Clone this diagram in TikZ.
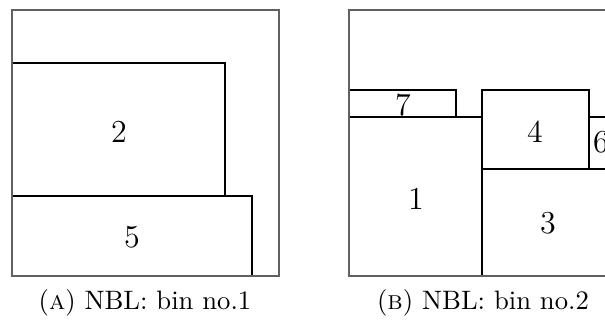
\documentclass[tikz,border=0pt]{standalone}
\usepackage{tikz}
\begin{document}
\begin{tikzpicture}[x=0.375pt,y=-0.375pt,
  binframe/.style={draw=black!62,line width=0.75pt},
  itembox/.style={draw=black,line width=0.4pt},
  itemlabel/.style={font=\large,inner sep=0pt},
  caplabel/.style={font=\normalsize,inner sep=0pt}]
\useasboundingbox (0,0) rectangle (605,320);
\clip (0,0) rectangle (605,320);

% ---- bin no.1 ----
\draw[itembox] (12,63) rectangle (225,196);
\node[itemlabel] (n2) at (119,132) {2};
\draw[itembox] (12,196) rectangle (252,276);
\node[itemlabel] (n5) at (132,237) {5};
\draw[binframe] (12,10) rectangle (279,276);
\node[caplabel] (capA) at (145,303) {(\textsc{a}) NBL: bin no.1};

% ---- bin no.2 ----
\draw[itembox] (349,90) rectangle (456,117);
\node[itemlabel] (n7) at (403,105) {7};
\draw[itembox] (349,117) rectangle (482,276);
\node[itemlabel] (n1) at (416,199) {1};
\draw[itembox] (482,90) rectangle (589,169);
\node[itemlabel] (n4) at (535,132) {4};
\draw[itembox] (589,117) rectangle (614,169);
\node[itemlabel] (n6) at (601,142) {6};
\draw[itembox] (482,169) rectangle (616,276);
\node[itemlabel] (n3) at (548,223) {3};
\draw[binframe] (349,10) rectangle (616,276);
\node[caplabel] (capB) at (483,303) {(\textsc{b}) NBL: bin no.2};
\end{tikzpicture}
\end{document}
